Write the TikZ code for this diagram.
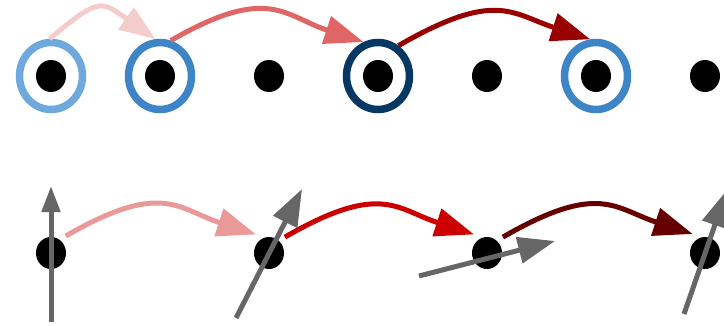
\documentclass[tikz,border=0pt]{standalone}
\usetikzlibrary{arrows.meta,shapes.geometric}
\definecolor{ringlight}{HTML}{6FA8DC}
\definecolor{ringmid}{HTML}{3D85C6}
\definecolor{ringdark}{HTML}{073763}
\definecolor{flowpale}{HTML}{F4CCCC}
\definecolor{flowsoft}{HTML}{E06666}
\definecolor{flowdeep}{HTML}{990000}
\definecolor{hoppale}{HTML}{EA9999}
\definecolor{hopmid}{HTML}{CC0000}
\definecolor{hopdeep}{HTML}{660000}
\definecolor{spingray}{HTML}{666666}
\tikzset{
  site/.style={
    ellipse,
    fill=black,
    minimum width=30pt,
    minimum height=32pt,
    inner sep=0pt
  },
  hopsite/.style={
    site,
    outer sep=7pt
  },
  ring/.style={
    ellipse,
    draw=#1,
    line width=7.5pt,
    minimum width=63pt,
    minimum height=67pt,
    inner sep=0pt
  },
  flow/.style={
    -{Triangle[length=39pt,width=28pt]},
    draw=#1,
    line width=5pt
  },
  hump/.style={
    out=30,
    in=162,
    out looseness=1.5,
    in looseness=1.1
  },
  spin/.style={
    -{Triangle[length=37pt,width=26pt]},
    draw=spingray,
    line width=5pt
  },
  spinsmall/.style={
    -{Triangle[length=26pt,width=18pt]},
    draw=spingray,
    line width=5pt
  }
}

\begin{document}
\begin{tikzpicture}[x=1pt,y=1pt]
  \useasboundingbox (0,0) rectangle (724,325);
  \clip (0,0) rectangle (724,325);

  % upper chain
  \node[ring=ringlight] (r1) at (51,249) {};
  \node[ring=ringmid] (r2) at (160,249) {};
  \node[ring=ringdark] (r4) at (378,249) {};
  \node[ring=ringmid] (r6) at (596,249) {};

  \node[site] (t1) at (51,249) {};
  \node[site] (t2) at (160,249) {};
  \node[site] (t3) at (269,249) {};
  \node[site] (t4) at (378,249) {};
  \node[site] (t5) at (487,249) {};
  \node[site] (t6) at (596,249) {};
  \node[site] (t7) at (705,249) {};

  \draw[flow=flowpale, -{Triangle[length=36pt,width=26pt]}]
    (r1.92) to[out=40,in=145,looseness=1.6] (r2.97);
  \draw[flow=flowsoft] (r2.73) to[hump] (r4.113);
  \draw[flow=flowdeep] (r4.56) to[hump] (r6.99);

  % lower chain
  \node[hopsite] (b1) at (51,72) {};
  \node[hopsite] (b2) at (269,72) {};
  \node[hopsite] (b3) at (487,72) {};
  \node[hopsite] (b4) at (705,72) {};

  \draw[flow=hoppale] (b1.49) to[hump] (b2.125);
  \draw[flow=hopmid] (b2.45) to[hump] (b3.125);
  \draw[flow=hopdeep] (b3.45) to[hump] (b4.123);

  \draw[spinsmall] ([shift={(0,-69)}]b1.center) -- ([shift={(0,67)}]b1.center);
  \draw[spin] ([shift={(-33,-65)}]b2.center) -- ([shift={(33,64)}]b2.center);
  \draw[spin] ([shift={(-68,-23)}]b3.center) -- ([shift={(68,12)}]b3.center);
  \draw[spin] ([shift={(-21,-61)}]b4.center) -- ([shift={(22,63)}]b4.center);
\end{tikzpicture}
\end{document}
